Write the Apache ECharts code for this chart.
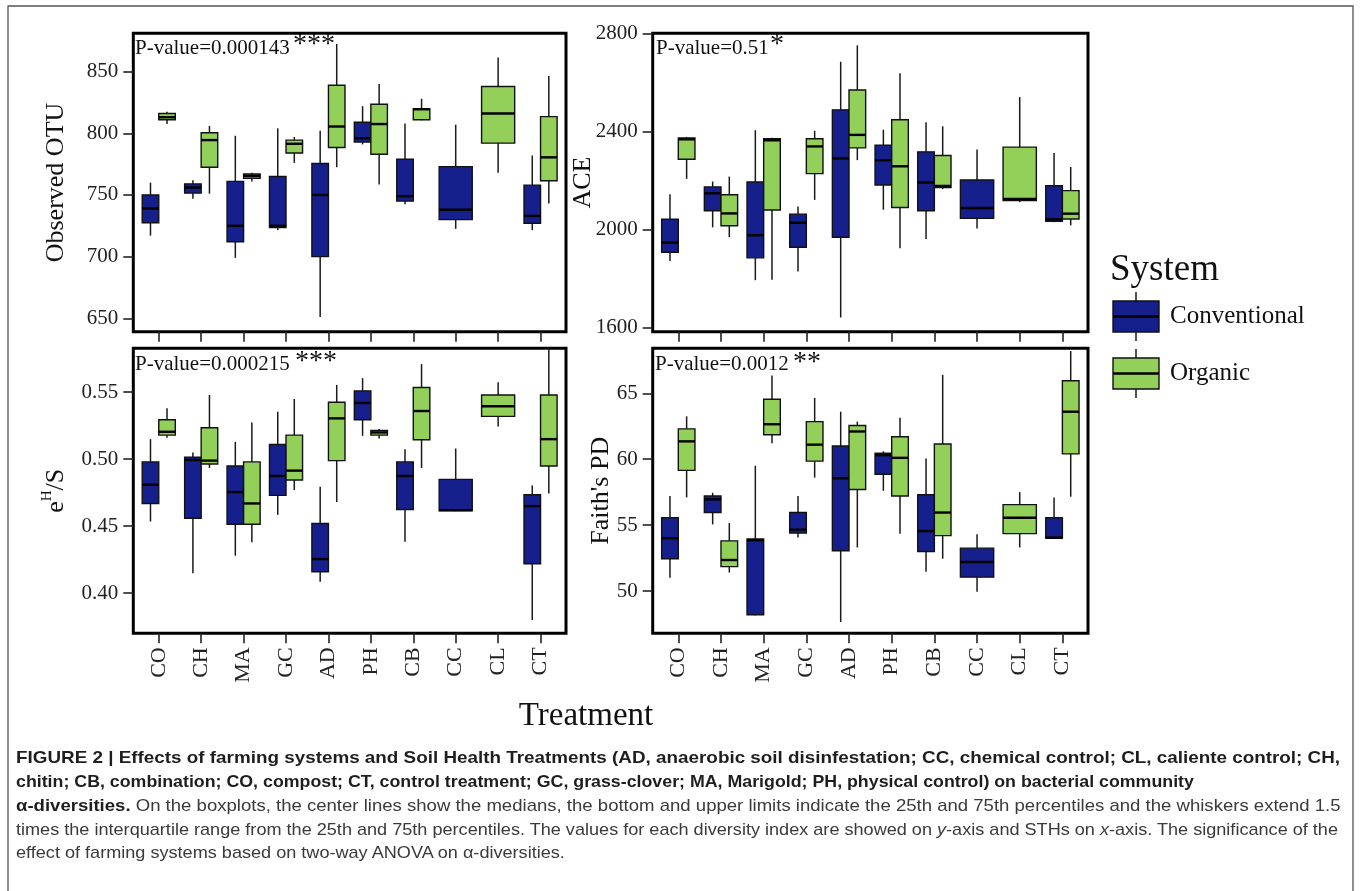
<!DOCTYPE html>
<html><head><meta charset="utf-8">
<script src="https://cdn.jsdelivr.net/npm/echarts@6/dist/echarts.min.js"></script>
<style>
html,body{margin:0;padding:0;background:#fff;width:1360px;height:891px;overflow:hidden;}
#chart{position:absolute;left:0;top:0;width:1360px;height:891px;}
.cap{position:absolute;left:16px;white-space:nowrap;font-family:'Liberation Sans',Arial,sans-serif;font-size:17px;line-height:24px;color:#3a3a3a;transform-origin:0 50%;}
.cap b{color:#1e1e1e;}
</style></head><body>
<div id="chart"></div>
<div id="caption"></div>
<script>
// ---------- data ----------
const treatments = ['CO','CH','MA','GC','AD','PH','CB','CC','CL','CT'];
const systems = ['Conventional','Organic'];

// [min, Q1, median, Q3, max]; null = no samples
const otuConv = [[717,727.5,739,750,760],[747,751.5,756,759,762],[699,712,725,761,798],[721.5,723.5,725,765,804],[651,700,750,775.5,802],[791,793,796,809,822],[742.5,745,749,779,808],[722.5,730,738,773,807],null,[721.5,727,733,758,782]];
const otuOrg  = [[807.5,811,813,816,817.5],[751,772.5,794.5,800.5,806],[761,763.5,765.5,767,768],[776,784,791.5,794.5,797],[772.5,788.5,805.5,839,872.5],[758.5,783,807.5,823.5,840],[810.5,811,819.5,820,828],null,[768,792,816,838,861.5],[743,761.5,780.5,813.5,846.5]];

const aceConv = [[1872,1908,1947,2042,2144],[2009,2077,2148,2174,2196],[1794,1885,1977,2194,2405],[1829,1928,2028,2063,2094],[1642,1969,2290,2488,2684],[2081,2182,2283,2344,2407],[1962,2077,2192,2317,2438],[2005,2046,2088,2202,2326],null,[2030,2034,2042,2179,2312]];
const aceOrg  = [[2207,2287,2368,2374,2378],[1969,2016,2066,2142,2216],[1796,2080,2364,2370,2374],[2121,2228,2339,2370,2403],[2283,2333,2386,2569,2751],[1924,2090,2258,2448,2637],[2165,2171,2178,2302,2421],null,[2112,2118,2125,2336,2540],[2017,2043,2065,2159,2255]];

const ehsConv = [[0.4535,0.467,0.481,0.498,0.515],[0.415,0.456,0.4995,0.5015,0.505],[0.428,0.4515,0.4755,0.495,0.513],[0.4585,0.473,0.4875,0.511,0.5355],[0.4085,0.416,0.4255,0.452,0.4795],[0.5175,0.5295,0.542,0.551,0.5605],[0.4385,0.4625,0.4875,0.498,0.5075],[0.4612,0.4615,0.462,0.485,0.508],null,[0.38,0.422,0.465,0.4735,0.4805]];
const ehsOrg  = [[0.516,0.518,0.5205,0.5295,0.538],[0.4935,0.4965,0.499,0.5235,0.548],[0.438,0.4515,0.467,0.498,0.5275],[0.477,0.4845,0.4915,0.518,0.545],[0.468,0.499,0.5305,0.5425,0.5555],[0.5155,0.518,0.52,0.5215,0.5225],[0.4935,0.5145,0.536,0.5535,0.571],null,[0.5245,0.532,0.5395,0.548,0.5575],[0.4745,0.495,0.515,0.548,0.583]];

const pdConv = [[51,52.45,54,55.55,57.2],[55.05,55.95,56.95,57.2,57.45],[48.15,48.2,53.85,53.95,59.5],[54.05,54.4,54.65,55.95,57.2],[47.65,53.05,58.55,61,63.6],[57.6,58.85,60.3,60.45,60.6],[51.45,53.0,54.55,57.3,60.05],[49.95,51.05,52.2,53.25,54.3],null,[53.95,54.0,54.05,55.55,57.1]];
const pdOrg  = [[57.1,59.15,61.35,62.3,63.25],[51.4,51.85,52.35,53.8,55.15],[61.2,61.85,62.65,64.55,66.35],[58.6,59.85,61.1,62.85,64.65],[53.3,57.7,62.1,62.55,62.85],[54.35,57.2,60.1,61.7,63.15],[52.45,54.2,55.95,61.15,66.4],null,[53.3,54.35,55.55,56.55,57.5],[57.15,60.4,63.6,65.95,68.2]];

const otuTicks = [650,700,750,800,850];
const aceTicks = [1600,2000,2400,2800];
const ehsTicks = [0.40,0.45,0.50,0.55];
const pdTicks  = [50,55,60,65];

const pLabels = ['P-value=0.000143','P-value=0.51','P-value=0.000215','P-value=0.0012'];
const pStars  = ['***','*','***','**'];

// ---------- styling / layout ----------
const SERIF = "'Liberation Serif','DejaVu Serif',serif";
const COL_CONV = '#15208d';
const COL_ORG = '#93d05a';
const INK = '#1a1a1a';

const panels = [
  {grid:{left:133.3,top:33.3,width:432.7,height:298.4}, min:639.1, max:881.1, ticks:otuTicks, conv:otuConv, org:otuOrg, name:'Observed OTU', gap:64, fmt:v=>String(v), xl:false},
  {grid:{left:652.7,top:33.3,width:435.3,height:298.4}, min:1584, max:2800, ticks:aceTicks, conv:aceConv, org:aceOrg, name:'ACE', gap:57, fmt:v=>String(v), xl:false},
  {grid:{left:133.3,top:348.3,width:432.7,height:285}, min:0.3701, max:0.5828, ticks:ehsTicks, conv:ehsConv, org:ehsOrg, name:'{e|e}{h|H}{s|/S}', gap:64, fmt:v=>v.toFixed(2), xl:true},
  {grid:{left:652.7,top:348.3,width:435.3,height:285}, min:46.79, max:68.41, ticks:pdTicks, conv:pdConv, org:pdOrg, name:"Faith's PD", gap:39, fmt:v=>String(v), xl:true}
];
const xIdx = treatments.map((t,i)=>i);

function boxSeries(pi, mine, other, sign, name, fill){
  const data = [];
  mine.forEach((d,i)=>{ if(d) data.push([i, d[0], d[1], d[2], d[3], d[4], other[i] ? sign : 0]); });
  return {
    type:'custom', name, xAxisIndex:pi, yAxisIndex:pi, clip:false,
    dimensions:['x','min','q1','median','q3','max','side'],
    encode:{x:0, y:[1,2,3,4,5]},
    data,
    renderItem(params, api){
      const xi = api.value(0), side = api.value(6);
      const unit = api.size([1,0])[0];
      const c = api.coord([xi, api.value(3)])[0];
      const w = unit*0.39;
      const x0 = side>0 ? c : c-w;
      const x1 = side<0 ? c : c+w;
      const xm = (x0+x1)/2;
      const y = k => api.coord([xi, api.value(k)])[1];
      const yMin=y(1), yQ1=y(2), yMed=y(3), yQ3=y(4), yMax=y(5);
      return {type:'group', children:[
        {type:'line', shape:{x1:xm,y1:yQ3,x2:xm,y2:yMax}, style:{stroke:INK, lineWidth:1.5}},
        {type:'line', shape:{x1:xm,y1:yQ1,x2:xm,y2:yMin}, style:{stroke:INK, lineWidth:1.5}},
        {type:'rect', shape:{x:x0, y:yQ3, width:x1-x0, height:yQ1-yQ3}, style:{fill:fill, stroke:'#111', lineWidth:1.4}},
        {type:'line', shape:{x1:x0,y1:yMed,x2:x1,y2:yMed}, style:{stroke:'#000', lineWidth:2.4}}
      ]};
    }
  };
}

const grid = panels.map(p=>Object.assign({show:true, borderColor:'#000', borderWidth:3, backgroundColor:'transparent', containLabel:false, outerBoundsMode:'none'}, p.grid));
const xAxis = panels.map((p,i)=>({
  type:'value', gridIndex:i, min:-0.6, max:9.6, position:'bottom',
  axisLine:{show:false, onZero:false}, splitLine:{show:false},
  axisTick:{show:true, inside:false, length:10, customValues:xIdx, lineStyle:{color:'#222', width:1.6}},
  axisLabel:{show:p.xl, customValues:xIdx, rotate:90, margin:14, fontFamily:SERIF, fontSize:22, color:'#222',
             formatter:v=>treatments[Math.round(v)]}
}));
const yAxis = panels.map((p,i)=>({
  type:'value', gridIndex:i, min:p.min, max:p.max, position:'left',
  name:p.name, nameLocation:'middle', nameGap:p.gap, nameMoveOverlap:false,
  nameTextStyle:{fontFamily:SERIF, fontSize:26, color:'#111',
    rich:{e:{fontFamily:SERIF,fontSize:26,color:'#111',lineHeight:30,verticalAlign:'bottom'},
          h:{fontFamily:SERIF,fontSize:15,color:'#111',lineHeight:30,verticalAlign:'top'},
          s:{fontFamily:SERIF,fontSize:26,color:'#111',lineHeight:30,verticalAlign:'bottom'}}},
  axisLine:{show:false, onZero:false}, splitLine:{show:false},
  axisTick:{show:true, inside:false, length:10, customValues:p.ticks, lineStyle:{color:'#222', width:1.6}},
  axisLabel:{customValues:p.ticks, margin:15, fontFamily:SERIF, fontSize:21, color:'#222', formatter:p.fmt}
}));
const series = [];
panels.forEach((p,i)=>{
  series.push(boxSeries(i, p.conv, p.org, -1, systems[0], COL_CONV));
  series.push(boxSeries(i, p.org, p.conv, 1, systems[1], COL_ORG));
});

// annotation positions
const pPos = [[135,48,293,44.5],[656,48,770,44.5],[135,364.7,295,361.2],[655,364.7,793,362.5]];
const graphic = [
  {type:'rect', shape:{x:8,y:6,width:1345,height:905}, style:{fill:'none', stroke:'#555', lineWidth:1.3}, silent:true},
  {type:'text', x:586, y:716, style:{text:'Treatment', fontFamily:SERIF, fontSize:33, fill:'#111', align:'center', verticalAlign:'middle'}},
  {type:'text', x:1110, y:270, style:{text:'System', fontFamily:SERIF, fontSize:37, fill:'#111', align:'left', verticalAlign:'middle'}}
];
pLabels.forEach((t,i)=>{
  const q = pPos[i];
  graphic.push({type:'text', x:q[0], y:q[1], style:{text:t, fontFamily:SERIF, fontSize:21, fill:'#111', align:'left', verticalAlign:'middle'}});
  graphic.push({type:'text', x:q[2], y:q[3], style:{text:pStars[i], fontFamily:SERIF, fontSize:28, fill:'#111', align:'left', verticalAlign:'middle'}});
});
// legend keys
[[COL_CONV,301,332,316.5,systems[0]],[COL_ORG,358,389,373.5,systems[1]]].forEach(k=>{
  graphic.push({type:'line', shape:{x1:1136,y1:k[1]-9,x2:1136,y2:k[1]}, style:{stroke:INK,lineWidth:1.5}});
  graphic.push({type:'line', shape:{x1:1136,y1:k[2],x2:1136,y2:k[2]+9}, style:{stroke:INK,lineWidth:1.5}});
  graphic.push({type:'rect', shape:{x:1113,y:k[1],width:46,height:k[2]-k[1]}, style:{fill:k[0],stroke:'#111',lineWidth:1.4}});
  graphic.push({type:'line', shape:{x1:1113,y1:k[3],x2:1159,y2:k[3]}, style:{stroke:'#000',lineWidth:2.4}});
  graphic.push({type:'text', x:1170, y:k[3], style:{text:k[4], fontFamily:SERIF, fontSize:25, fill:'#111', align:'left', verticalAlign:'middle'}});
});

const chart = echarts.init(document.getElementById('chart'), null, {renderer:'canvas'});
chart.setOption({animation:false, backgroundColor:'#fff', grid, xAxis, yAxis, series, graphic});

// ---------- caption ----------
const captionLines = [
  {html:'<b>FIGURE 2 | Effects of farming systems and Soil Health Treatments (AD, anaerobic soil disinfestation; CC, chemical control; CL, caliente control; CH,</b>', w:1324, y:758},
  {html:'<b>chitin; CB, combination; CO, compost; CT, control treatment; GC, grass-clover; MA, Marigold; PH, physical control) on bacterial community</b>', w:1178, y:782},
  {html:'<b>\u03b1-diversities.</b> On the boxplots, the center lines show the medians, the bottom and upper limits indicate the 25th and 75th percentiles and the whiskers extend 1.5', w:1324, y:806},
  {html:'times the interquartile range from the 25th and 75th percentiles. The values for each diversity index are showed on <i>y</i>-axis and STHs on <i>x</i>-axis. The significance of the', w:1322, y:829.5},
  {html:'effect of farming systems based on two-way ANOVA on \u03b1-diversities.', w:null, y:853}
];
const cap = document.getElementById('caption');
let lastScale = 1;
captionLines.forEach(l=>{
  const d = document.createElement('div');
  d.className = 'cap';
  d.style.top = (l.y - 12) + 'px';
  d.innerHTML = l.html;
  cap.appendChild(d);
  const nat = d.offsetWidth;
  const s = l.w ? l.w / nat : lastScale;
  lastScale = s;
  d.style.transform = 'scaleX(' + s + ')';
});
</script>
</body></html>
